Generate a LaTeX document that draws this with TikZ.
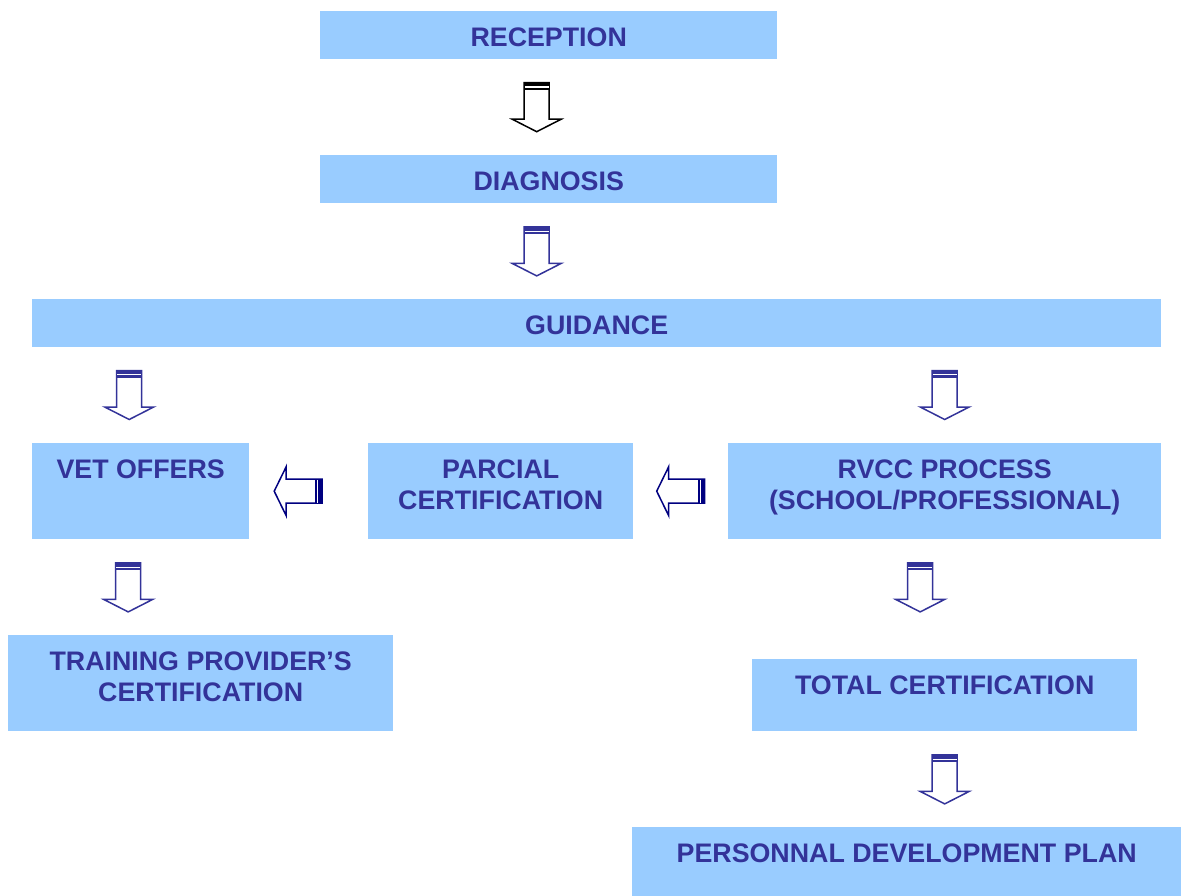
\documentclass[tikz,border=0pt]{standalone}
\usepackage{fontspec}
\setmainfont{Liberation Sans}
\usetikzlibrary{calc}

\definecolor{boxblue}{HTML}{99CCFF}
\definecolor{textblue}{HTML}{333399}
\definecolor{navyline}{HTML}{000080}

% box content: fixed-size parbox, text hung from the top edge
\newcommand{\boxlabel}[3]{\parbox[c][#2][t]{#1}{\centering\rule{0pt}{35.4pt}#3}}

\tikzset{
  stage/.style={fill=boxblue, inner sep=0pt, anchor=north west,
    text=textblue, font=\fontsize{26.8}{31}\selectfont\bfseries},
  pics/downarrow/.style={code={
    \draw[line width=1.5pt, fill=white, line join=miter]
      (-12.5,-24.5) -- (12.5,-24.5) -- (12.5,12) -- (24.5,12) -- (0,24.5)
      -- (-24.5,12) -- (-12.5,12) -- cycle;
    \fill (-13.2,-25.2) rectangle (13.2,-17.5);
    \draw[white, line width=1.1pt] (-11.8,-20.2) -- (11.8,-20.2);
  }},
  pics/leftarrow/.style={code={
    \draw[line width=1.5pt, fill=white, line join=miter]
      (-24,0) -- (-12,-24.5) -- (-12,-12) -- (24,-12) -- (24,12)
      -- (-12,12) -- (-12,24.5) -- cycle;
    \fill (17,-12.7) rectangle (24.7,12.7);
    \draw[white, line width=1.1pt] (19.6,-11.3) -- (19.6,11.3);
  }},
}

\begin{document}
\begin{tikzpicture}[x=1pt, y=-1pt]
\useasboundingbox (0,0) rectangle (1181,896);

\node[stage] (rec)   at (320,11)  {\boxlabel{457pt}{48pt}{RECEPTION}};
\node[stage] (diag)  at (320,155) {\boxlabel{457pt}{48pt}{DIAGNOSIS}};
\node[stage] (guid)  at (32,299)  {\boxlabel{1129pt}{48pt}{GUIDANCE}};
\node[stage] (vet)   at (32,443)  {\boxlabel{217pt}{96pt}{VET OFFERS}};
\node[stage] (parc)  at (368,443) {\boxlabel{265pt}{96pt}{PARCIAL\\CERTIFICATION}};
\node[stage] (rvcc)  at (728,443) {\boxlabel{433pt}{96pt}{RVCC PROCESS\\(SCHOOL/PROFESSIONAL)}};
\node[stage] (train) at (8,635)   {\boxlabel{385pt}{96pt}{TRAINING PROVIDER’S\\CERTIFICATION}};
\node[stage] (total) at (752,659) {\boxlabel{385pt}{72pt}{TOTAL CERTIFICATION}};
\node[stage] (pdp)   at (632,827) {\boxlabel{549pt}{69pt}{PERSONNAL DEVELOPMENT PLAN}};

% block arrows between the stages
\pic[color=black]    at ($(rec.south)!.5!(diag.north)+(-12,0)$) {downarrow};
\pic[color=textblue] at ($(diag.south)+(-12,48)$)    {downarrow};
\pic[color=textblue] at ($(vet.north)+(-11.5,-48)$)  {downarrow};
\pic[color=textblue] at ($(rvcc.north)+(0,-48)$)     {downarrow};
\pic[color=textblue] at ($(vet.south)+(-12.5,48)$)   {downarrow};
\pic[color=textblue] at ($(rvcc.south)+(-24.5,48)$)  {downarrow};
\pic[color=textblue] at ($(total.south)+(0,48)$)     {downarrow};
\pic[color=navyline] at ($(vet.east)!.5!(parc.west)+(-10.5,0)$) {leftarrow};
\pic[color=navyline] at ($(parc.east)!.5!(rvcc.west)$) {leftarrow};
\end{tikzpicture}
\end{document}
